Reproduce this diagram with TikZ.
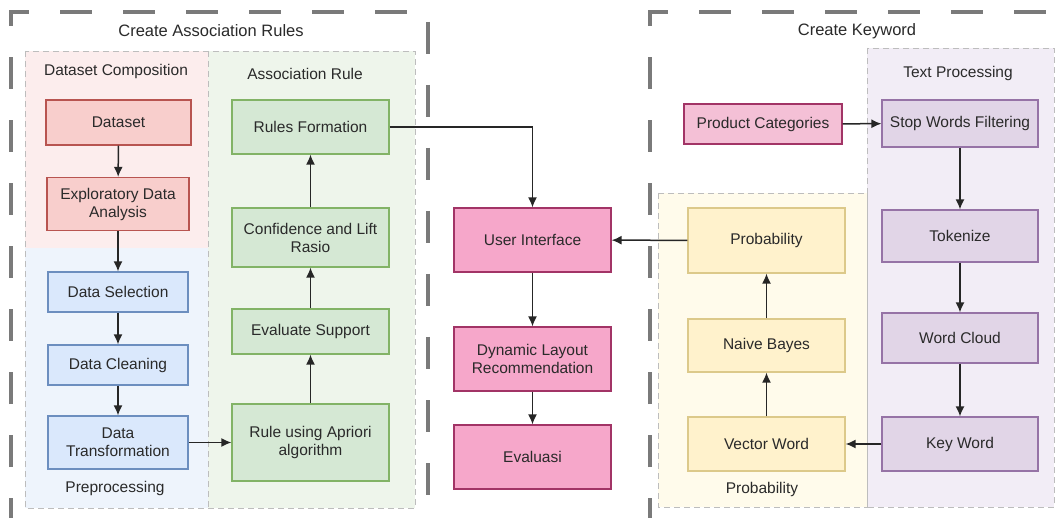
\documentclass[tikz,border=0pt]{standalone}
\usepackage{fontspec}
\setmainfont{Liberation Sans}
\usetikzlibrary{arrows.meta}
\definecolor{txt}{HTML}{2A2A2A}
\definecolor{frame}{HTML}{7A7A7A}
\definecolor{cbord}{HTML}{BDBDBD}
\definecolor{bgred}{HTML}{FCEDED}
\definecolor{bgblue}{HTML}{EEF4FC}
\definecolor{bggreen}{HTML}{EEF5EB}
\definecolor{bgpurple}{HTML}{F2EDF6}
\definecolor{bgyellow}{HTML}{FFFBEB}
\definecolor{fred}{HTML}{F8CECC}\definecolor{dred}{HTML}{B85450}
\definecolor{fblue}{HTML}{DAE8FC}\definecolor{dblue}{HTML}{6C8EBF}
\definecolor{fgreen}{HTML}{D5E8D4}\definecolor{dgreen}{HTML}{82B366}
\definecolor{fpink}{HTML}{F6A7CA}\definecolor{dpink}{HTML}{A23466}
\definecolor{fpinkl}{HTML}{F4C0D6}
\definecolor{fpurple}{HTML}{E1D5E7}\definecolor{dpurple}{HTML}{9673A6}
\definecolor{fyellow}{HTML}{FFF2CC}\definecolor{dyellow}{HTML}{DCC98A}
\tikzset{
  bigframe/.style={draw=frame, line width=3.5pt, dash pattern=on 32pt off 31pt},
  container/.style={draw=cbord, line width=0.8pt, dash pattern=on 6pt off 4pt},
  box/.style={draw, line width=1.2pt, text=txt, align=center, inner sep=2pt,
     font=\fontsize{15.5}{18}\selectfont},
  redbox/.style={box, fill=fred, draw=dred},
  bluebox/.style={box, fill=fblue, draw=dblue},
  greenbox/.style={box, fill=fgreen, draw=dgreen},
  pinkbox/.style={box, fill=fpink, draw=dpink},
  pinklbox/.style={box, fill=fpinkl, draw=dpink},
  purplebox/.style={box, fill=fpurple, draw=dpurple},
  yellowbox/.style={box, fill=fyellow, draw=dyellow},
  lbl/.style={text=txt, font=\fontsize{15.5}{18}\selectfont},
  title/.style={text=txt, font=\fontsize{16.5}{19}\selectfont},
  arr/.style={-{Latex[length=10pt,width=9pt]}, line width=1.5pt, draw=black!85},
}
\begin{document}
\begin{tikzpicture}[x=1pt,y=-1pt]
\useasboundingbox[fill=white] (0,0) rectangle (1060,518);
% containers
\fill[bgred] (25,51) rectangle (208,248);
\fill[bgblue] (25,248) rectangle (208,508);
\fill[bggreen] (208,51) rectangle (415,508);
\draw[container] (25,51) rectangle (415,508);
\draw[container] (208,51) -- (208,508);
\fill[bgyellow] (658,193) rectangle (867,507);
\fill[bgpurple] (867,48) rectangle (1054,507);
\draw[container] (658,193) rectangle (867,507);
\draw[container] (867,48) rectangle (1054,507);
% big frames
\draw[bigframe] (11,530) -- (11,12) -- (428,12) -- (428,530);
\draw[bigframe] (650,530) -- (650,12) -- (1075,12);
% titles
\node[title] (t1) at (211,31) {Create Association Rules};
\node[title] (t2) at (857,31) {Create Keyword};
\node[lbl] (l1) at (116,71) {Dataset Composition};
\node[lbl] (l2) at (305,74) {Association Rule};
\node[lbl] (l3) at (115,488) {Preprocessing};
\node[lbl] (l4) at (958,73) {Text Processing};
\node[lbl] (l5) at (762,489) {Probability};
% left nodes
\node[redbox, minimum width=145pt, minimum height=45pt] (ds) at (118.5,122.5) {Dataset};
\node[redbox, minimum width=142pt, minimum height=53pt] (eda) at (118,204) {Exploratory Data\\Analysis};
\node[bluebox, minimum width=140pt, minimum height=40pt] (sel) at (118,292) {Data Selection};
\node[bluebox, minimum width=140pt, minimum height=40pt] (cln) at (118,365) {Data Cleaning};
\node[bluebox, minimum width=140pt, minimum height=53pt] (trf) at (118,442.5) {Data\\Transformation};
\node[greenbox, minimum width=157pt, minimum height=54pt] (rf) at (310.5,127) {Rules Formation};
\node[greenbox, minimum width=157pt, minimum height=59pt] (cl) at (310.5,237.5) {Confidence and Lift\\Rasio};
\node[greenbox, minimum width=157pt, minimum height=45pt] (es) at (310.5,331.5) {Evaluate Support};
\node[greenbox, minimum width=157pt, minimum height=77pt] (ap) at (310.5,442.5) {Rule using Apriori\\algorithm};
% center nodes
\node[pinkbox, minimum width=157pt, minimum height=64pt] (ui) at (532.5,240) {User Interface};
\node[pinkbox, minimum width=157pt, minimum height=64pt] (dl) at (532.5,359) {Dynamic Layout\\Recommendation};
\node[pinkbox, minimum width=157pt, minimum height=64pt] (ev) at (532.5,457) {Evaluasi};
% right nodes
\node[pinklbox, minimum width=158pt, minimum height=40pt] (pc) at (763,124) {Product Categories};
\node[purplebox, minimum width=156pt, minimum height=47pt] (sw) at (960,123.5) {Stop Words Filtering};
\node[purplebox, minimum width=156pt, minimum height=52pt] (tk) at (960,236) {Tokenize};
\node[purplebox, minimum width=156pt, minimum height=50pt] (wc) at (960,338) {Word Cloud};
\node[purplebox, minimum width=156pt, minimum height=54pt] (kw) at (960,444) {Key Word};
\node[yellowbox, minimum width=157pt, minimum height=65pt] (pr) at (766.5,240.5) {Probability};
\node[yellowbox, minimum width=157pt, minimum height=53pt] (nb) at (766.5,345.5) {Naive Bayes};
\node[yellowbox, minimum width=157pt, minimum height=54pt] (vw) at (766.5,444) {Vector Word};
% connectors
\draw[arr] (ds) -- (eda);
\draw[arr] (eda) -- (sel);
\draw[arr] (sel) -- (cln);
\draw[arr] (cln) -- (trf);
\draw[arr] (trf) -- (ap);
\draw[arr] (ap) -- (es);
\draw[arr] (es) -- (cl);
\draw[arr] (cl) -- (rf);
\draw[arr] (rf.east) -| (ui.north);
\draw[arr] (ui) -- (dl);
\draw[arr] (dl) -- (ev);
\draw[arr] (pc) -- (sw);
\draw[arr] (sw) -- (tk);
\draw[arr] (tk) -- (wc);
\draw[arr] (wc) -- (kw);
\draw[arr] (kw) -- (vw);
\draw[arr] (vw) -- (nb);
\draw[arr] (nb) -- (pr);
\draw[arr] (pr) -- (ui);
\end{tikzpicture}
\end{document}
